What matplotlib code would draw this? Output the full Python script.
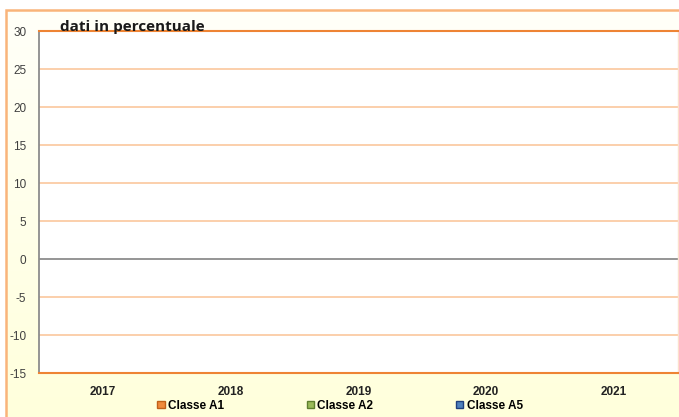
import numpy as np
import matplotlib.pyplot as plt
from matplotlib.patches import Rectangle, Patch

# dati (nessun valore disponibile)
anni = ['2017', '2018', '2019', '2020', '2021']
classe_a1 = [np.nan, np.nan, np.nan, np.nan, np.nan]
classe_a2 = [np.nan, np.nan, np.nan, np.nan, np.nan]
classe_a5 = [np.nan, np.nan, np.nan, np.nan, np.nan]
yticks = [-15, -10, -5, 0, 5, 10, 15, 20, 25, 30]

serie = [('Classe A1', classe_a1, '#F08A3C', '#C0601A'),
         ('Classe A2', classe_a2, '#9BBB59', '#5E7F2E'),
         ('Classe A5', classe_a5, '#4F81BD', '#1F3F7F')]

plt.rcParams['font.family'] = ['Liberation Sans', 'DejaVu Sans']
plt.rcParams['axes.unicode_minus'] = False

fig = plt.figure(figsize=(6.79, 4.17), dpi=100)
fig.patch.set_facecolor('white')

# sfondo sfumato
bg = fig.add_axes([0, 0, 1, 1], zorder=-5)
grad = np.linspace(0, 1, 256).reshape(-1, 1)
c_top = np.array([1.0, 1.0, 0.975])
c_bot = np.array([1.0, 1.0, 0.86])
img = c_top + (c_bot - c_top) * grad[:, :, None]
bg.imshow(img, aspect='auto', extent=[0.0088, 1.01, -0.01, 0.976])
bg.set_xlim(0, 1); bg.set_ylim(0, 1)
bg.add_patch(Rectangle((0.0088, -0.02), 1.05, 0.996, fill=False,
                       edgecolor='#F9B47A', lw=1.8))
bg.axis('off')

ax = fig.add_axes([0.0574, 0.1055, 0.941, 0.8201])
ax.set_facecolor('white')
x = np.arange(len(anni))
w = 0.22
for i, (nome, val, col, bordo) in enumerate(serie):
    ax.bar(x + (i - 1) * w, val, w, color=col, edgecolor=bordo, label=nome)

ax.set_xlim(-0.5, len(anni) - 0.5)
ax.set_ylim(-15, 30)
ax.set_yticks(yticks)
ax.set_xticks(x)
ax.set_xticklabels(anni, fontweight='bold', fontsize=8.5, color='#222222')
ax.tick_params(axis='x', length=0, pad=9)
ax.tick_params(axis='y', length=0, pad=9, labelsize=8.5, labelcolor='#404040')

for y in yticks[1:-1]:
    if y != 0:
        ax.axhline(y, color='#FBCBA5', lw=1.3, zorder=0)
ax.axhline(0, color='#8C8C8C', lw=1.3, zorder=1)

for s in ['top', 'bottom']:
    ax.spines[s].set_color('#EE8434')
    ax.spines[s].set_linewidth(1.5)
ax.spines['left'].set_color('#8C8C8C')
ax.spines['left'].set_linewidth(1.3)
ax.spines['right'].set_color('#FCE0CC')
ax.spines['right'].set_linewidth(1)

fig.text(0.088, 0.926, 'dati in percentuale', fontsize=11, fontweight='bold',
         color='#1A1A1A', family=['Open Sans', 'DejaVu Sans'], zorder=5)

handles = [Patch(facecolor=c, edgecolor=b, lw=1) for _, _, c, b in serie]
fig.legend(handles, [s[0] for s in serie], loc='center', ncol=3,
           bbox_to_anchor=(0.501, 0.027), frameon=False,
           prop={'weight': 'bold', 'size': 8.5},
           handlelength=0.6, handleheight=0.6, handletextpad=0.3,
           columnspacing=7.0)

fig.savefig('out.png', dpi=100)
